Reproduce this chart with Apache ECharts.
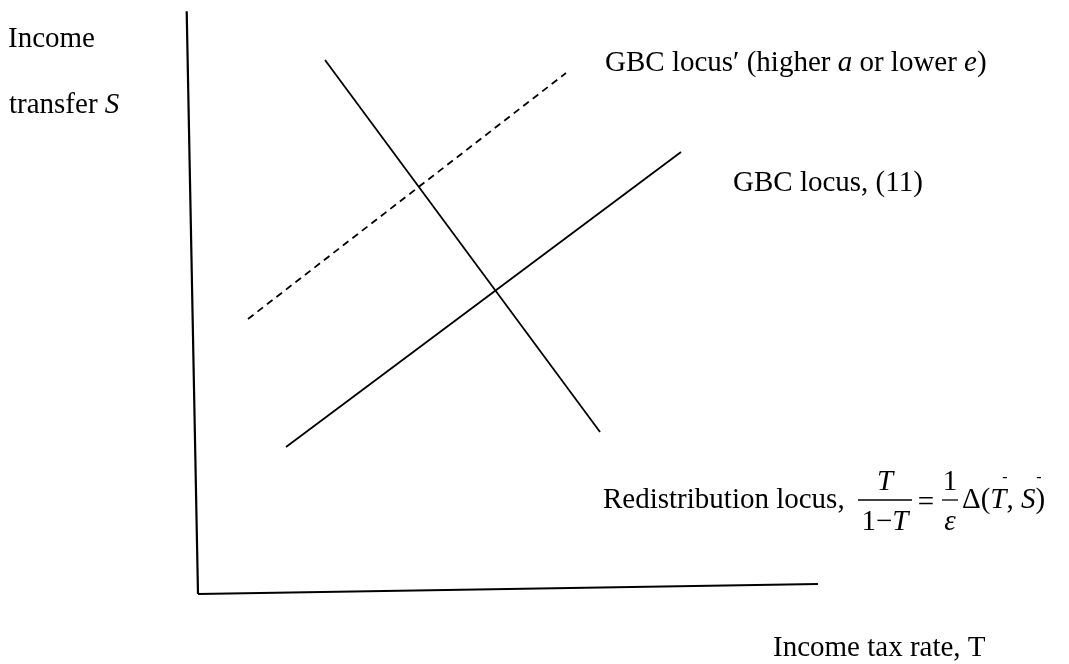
<!DOCTYPE html>
<html>
<head>
<meta charset="utf-8">
<script src="https://cdn.jsdelivr.net/npm/echarts@6/dist/echarts.min.js"></script>
<style>
html,body{margin:0;padding:0;background:#fff;}
#chart{width:1069px;height:664px;}
</style>
</head>
<body>
<div id="chart"></div>
<script>
// Schematic values (x: income tax rate T, y: income transfer S), in chart units 0..100
const verticalAxisLine = [[1.03, 99.8], [2.77, 1.02]];
const horizontalAxisLine = [[2.77, 1.02], [98.15, 2.71]];
const redistributionLocus = [[22.31, 91.53], [64.62, 28.47]];
const gbcLocus = [[16.31, 25.93], [77.08, 75.93]];
const gbcLocusPrime = [[10.46, 47.63], [59.38, 89.32]];

const FONT = '"Liberation Serif", "Times New Roman", serif';
const FS = 29;

function txt(x, y, text, opts) {
  opts = opts || {};
  return {
    type: 'text', x: x, y: y, silent: true,
    style: Object.assign({
      text: text,
      font: (opts.italic ? 'italic ' : '') + (opts.size || FS) + 'px ' + FONT,
      fill: '#000',
      align: opts.align || 'left',
      verticalAlign: 'middle',
      rich: { i: { fontStyle: 'italic', fontSize: opts.size || FS, fontFamily: FONT } }
    }, opts.style || {})
  };
}

const chart = echarts.init(document.getElementById('chart'), null, { renderer: 'canvas' });

const lineBase = { type: 'line', symbol: 'none', clip: false, silent: true, animation: false };

chart.setOption({
  animation: false,
  backgroundColor: '#fff',
  grid: { left: 180, top: 10, width: 650, height: 590 },
  xAxis: { type: 'value', min: 0, max: 100, show: false },
  yAxis: { type: 'value', min: 0, max: 100, show: false },
  series: [
    Object.assign({}, lineBase, { name: 'S axis', data: verticalAxisLine, lineStyle: { color: '#000', width: 2.2 } }),
    Object.assign({}, lineBase, { name: 'T axis', data: horizontalAxisLine, lineStyle: { color: '#000', width: 2.2 } }),
    Object.assign({}, lineBase, { name: 'Redistribution locus', data: redistributionLocus, lineStyle: { color: '#000', width: 1.8 } }),
    Object.assign({}, lineBase, { name: 'GBC locus', data: gbcLocus, lineStyle: { color: '#000', width: 1.8 } }),
    Object.assign({}, lineBase, { name: "GBC locus'", data: gbcLocusPrime, lineStyle: { color: '#000', width: 1.8, type: [7, 5] } })
  ],
  graphic: [
    txt(8, 39, 'Income'),
    txt(9, 105, 'transfer {i|S}'),
    txt(605, 63, 'GBC locus\u2032 (higher {i|a} or lower {i|e})'),
    txt(733, 183, 'GBC locus, (11)'),
    txt(773, 648, 'Income tax rate, T'),
    txt(603, 500, 'Redistribution locus,'),
    // fraction T / (1 - T)
    txt(885, 482, 'T', { italic: true, align: 'center' }),
    { type: 'line', silent: true, shape: { x1: 858, y1: 500, x2: 912, y2: 500 }, style: { stroke: '#000', lineWidth: 1.3 } },
    txt(885, 522, '1\u2212{i|T}', { align: 'center' }),
    txt(926, 503, '=', { align: 'center' }),
    // fraction 1 / epsilon
    txt(950, 482, '1', { align: 'center' }),
    { type: 'line', silent: true, shape: { x1: 942, y1: 500, x2: 958, y2: 500 }, style: { stroke: '#000', lineWidth: 1.3 } },
    txt(950, 522, '\u03b5', { italic: true, align: 'center' }),
    txt(962, 500, '\u0394({i|T}, {i|S})'),
    txt(1005, 478, '-', { size: 16, align: 'center' }),
    txt(1039, 478, '-', { size: 16, align: 'center' })
  ]
});
</script>
</body>
</html>
